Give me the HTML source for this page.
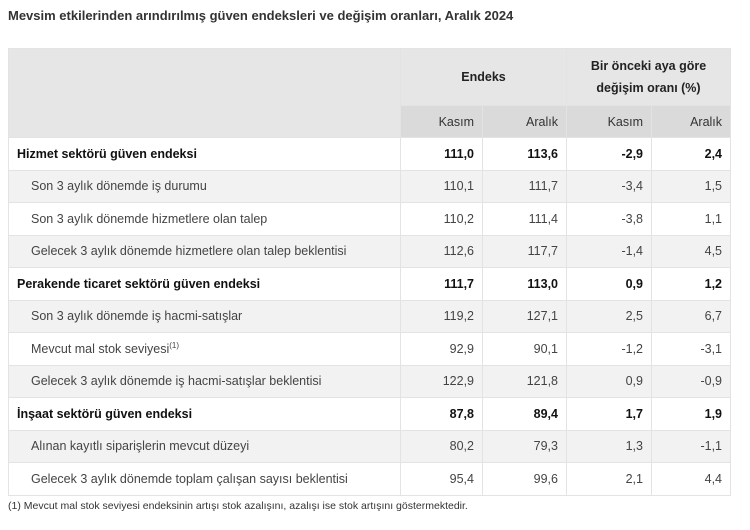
<!DOCTYPE html>
<html><head><meta charset="utf-8"><style>
body{margin:0;width:750px;height:530px;background:#fff;font-family:"Liberation Sans",sans-serif;color:#333;position:relative;overflow:hidden}
.t{position:absolute;left:8px;top:8px;font-size:13px;font-weight:bold;color:#333}
table{position:absolute;left:8px;top:48px;border-collapse:collapse;table-layout:fixed;width:722px}
td,th{font-size:12.5px;padding:0 8px;border:1px solid #e3e3e3;box-sizing:border-box}
td{height:32.5px}
th{background:#e6e6e6;font-weight:bold;color:#222}
.sub th{background:#dadada;font-weight:normal;text-align:right;color:#333;height:32px}
td.n{text-align:right}
tr.b td{font-weight:bold;color:#111;background:#fff}
tr.s td:first-child{padding-left:22px}
tr.s td{color:#444}
tr.g td{background:#f2f2f2}
.f{position:absolute;left:8px;top:500px;font-size:10.5px;color:#333}
</style></head><body>
<div class="t">Mevsim etkilerinden arındırılmış güven endeksleri ve değişim oranları, Aralık 2024</div>
<table>
<colgroup><col style="width:392px"><col style="width:82px"><col style="width:84px"><col style="width:85px"><col style="width:79px"></colgroup>
<tr style="height:57px"><th rowspan="2" style="height:89px"></th><th colspan="2" style="height:57px">Endeks</th><th colspan="2" style="line-height:22px">Bir önceki aya göre<br>değişim oranı (%)</th></tr>
<tr class="sub"><th>Kasım</th><th>Aralık</th><th>Kasım</th><th>Aralık</th></tr>
<tr class="b"><td>Hizmet sektörü güven endeksi</td><td class="n">111,0</td><td class="n">113,6</td><td class="n">-2,9</td><td class="n">2,4</td></tr>
<tr class="s g"><td>Son 3 aylık dönemde iş durumu</td><td class="n">110,1</td><td class="n">111,7</td><td class="n">-3,4</td><td class="n">1,5</td></tr>
<tr class="s"><td>Son 3 aylık dönemde hizmetlere olan talep</td><td class="n">110,2</td><td class="n">111,4</td><td class="n">-3,8</td><td class="n">1,1</td></tr>
<tr class="s g"><td>Gelecek 3 aylık dönemde hizmetlere olan talep beklentisi</td><td class="n">112,6</td><td class="n">117,7</td><td class="n">-1,4</td><td class="n">4,5</td></tr>
<tr class="b"><td>Perakende ticaret sektörü güven endeksi</td><td class="n">111,7</td><td class="n">113,0</td><td class="n">0,9</td><td class="n">1,2</td></tr>
<tr class="s g"><td>Son 3 aylık dönemde iş hacmi-satışlar</td><td class="n">119,2</td><td class="n">127,1</td><td class="n">2,5</td><td class="n">6,7</td></tr>
<tr class="s"><td>Mevcut mal stok seviyesi<sup style="font-size:8px">(1)</sup></td><td class="n">92,9</td><td class="n">90,1</td><td class="n">-1,2</td><td class="n">-3,1</td></tr>
<tr class="s g"><td>Gelecek 3 aylık dönemde iş hacmi-satışlar beklentisi</td><td class="n">122,9</td><td class="n">121,8</td><td class="n">0,9</td><td class="n">-0,9</td></tr>
<tr class="b"><td>İnşaat sektörü güven endeksi</td><td class="n">87,8</td><td class="n">89,4</td><td class="n">1,7</td><td class="n">1,9</td></tr>
<tr class="s g"><td>Alınan kayıtlı siparişlerin mevcut düzeyi</td><td class="n">80,2</td><td class="n">79,3</td><td class="n">1,3</td><td class="n">-1,1</td></tr>
<tr class="s"><td>Gelecek 3 aylık dönemde toplam çalışan sayısı beklentisi</td><td class="n">95,4</td><td class="n">99,6</td><td class="n">2,1</td><td class="n">4,4</td></tr>
</table>
<div class="f">(1) Mevcut mal stok seviyesi endeksinin artışı stok azalışını, azalışı ise stok artışını göstermektedir.</div>
</body></html>
